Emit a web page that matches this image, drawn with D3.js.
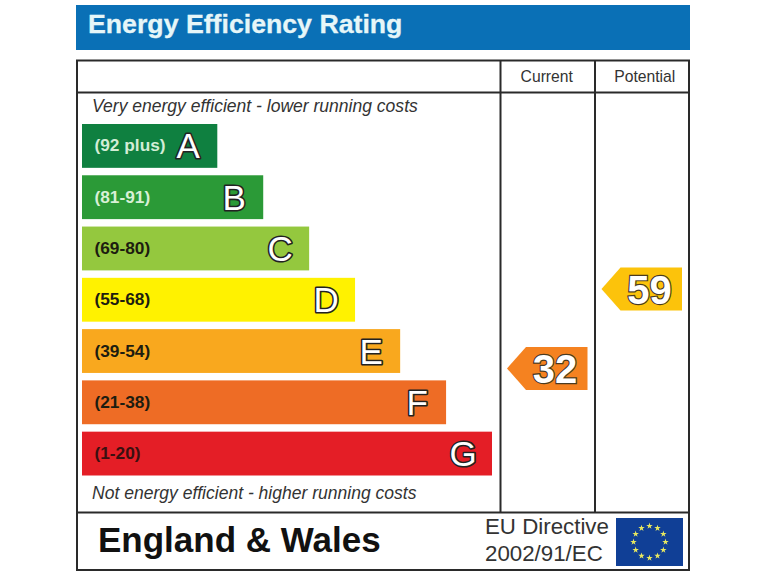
<!DOCTYPE html>
<html>
<head>
<meta charset="utf-8">
<script src="https://cdn.jsdelivr.net/npm/d3@7"></script>
<style>
    html, body { margin: 0; padding: 0; background: #fff; }
    svg { display: block; }
    text { font-family: "Liberation Sans", Arial, sans-serif; }
</style>
</head>
<body>
<div id="chart"></div>
<script>
// Chart data
const bandLetters = ["A", "B", "C", "D", "E", "F", "G"];
const bandRanges = ["(92 plus)", "(81-91)", "(69-80)", "(55-68)", "(39-54)", "(21-38)", "(1-20)"];
const bandLengths = [33, 44.2, 55.4, 66.6, 77.6, 88.8, 100]; // percent of the longest bar
const bandColors = ["#0f8040", "#2b9a37", "#94c83e", "#fff200", "#f9a81e", "#ee6c25", "#e41e26"];
const rangeColors = ["#d3edd6", "#d8f0d6", "#1d1d10", "#1d1d10", "#1d1d10", "#1d1d10", "#3a1010"];
const ratingColumns = ["Current", "Potential"];
const ratingValues = [32, 59];
const ratingColors = ["#f58220", "#fcc30b"];

const svg = d3.select("#chart").append("svg")
    .attr("width", 768)
    .attr("height", 576);

const xScale = d3.scaleLinear().domain([0, 100]).range([82, 492]);
const yScale = d3.scaleBand().domain(bandLetters).range([124, 475.5]).paddingInner(0.145).paddingOuter(0);
const ratingY = d3.scaleLinear().domain([0, 100]).range([462.7, 168.3]);
const columnX = d3.scaleBand().domain(ratingColumns).range([500.5, 689.5]);

// Header
svg.append("rect").attr("x", 76).attr("y", 5).attr("width", 614).attr("height", 45).attr("fill", "#0a70b6");
svg.append("text")
    .attr("x", 88).attr("y", 33)
    .attr("fill", "#e6f6f8")
    .attr("stroke", "#e6f6f8").attr("stroke-width", 0.3)
    .attr("font-size", 26.7).attr("font-weight", "bold")
    .text("Energy Efficiency Rating");

// Frame
const frame = svg.append("g").attr("stroke", "#2a2a2a").attr("stroke-width", 2).attr("fill", "none");
frame.append("rect").attr("x", 77).attr("y", 60.5).attr("width", 612).attr("height", 509.5);
[[77, 92.5, 689, 92.5], [77, 512.5, 689, 512.5], [500.5, 60.5, 500.5, 512.5], [595, 60.5, 595, 512.5]]
    .forEach(d => frame.append("line").attr("x1", d[0]).attr("y1", d[1]).attr("x2", d[2]).attr("y2", d[3]));

// Column titles
svg.selectAll(".columnTitle")
    .data(ratingColumns)
    .enter()
    .append("text")
    .attr("class", "columnTitle")
    .attr("x", d => columnX(d) + columnX.bandwidth() / 2 + (d === "Current" ? -1 : 2.5))
    .attr("y", 81.5)
    .attr("text-anchor", "middle")
    .attr("font-size", 15.7)
    .attr("fill", "#333")
    .text(d => d);

// Notes above and below the bars
svg.append("text").attr("x", 92).attr("y", 112).attr("font-size", 17.55).attr("font-style", "italic").attr("fill", "#333")
    .text("Very energy efficient - lower running costs");
svg.append("text").attr("x", 92).attr("y", 499).attr("font-size", 17.55).attr("font-style", "italic").attr("fill", "#333")
    .text("Not energy efficient - higher running costs");

// Bars
const bars = svg.selectAll(".band")
    .data(bandLetters)
    .enter()
    .append("g")
    .attr("class", "band");

bars.append("rect")
    .attr("x", xScale(0))
    .attr("y", d => yScale(d))
    .attr("width", (d, i) => xScale(bandLengths[i]) - xScale(0))
    .attr("height", yScale.bandwidth())
    .attr("fill", (d, i) => bandColors[i]);

bars.append("text")
    .attr("x", 94.5)
    .attr("y", d => yScale(d) + yScale.bandwidth() / 2 + 5.5)
    .attr("font-size", 17.3).attr("font-weight", "bold")
    .attr("fill", (d, i) => rangeColors[i])
    .text((d, i) => bandRanges[i]);

bars.append("text")
    .attr("x", (d, i) => xScale(bandLengths[i]) - 29)
    .attr("y", d => yScale(d) + yScale.bandwidth() / 2 + 12.5)
    .attr("text-anchor", "middle")
    .attr("font-size", 35)
    .attr("fill", "#fff").attr("stroke", "#222").attr("stroke-width", 3.2)
    .attr("stroke-linejoin", "round")
    .attr("paint-order", "stroke")
    .text(d => d);

// Rating arrows
const arrowHalf = 21.5;
const arrowLine = d3.line();
const arrows = svg.selectAll(".arrow")
    .data(ratingValues)
    .enter()
    .append("g")
    .attr("class", "arrow");

arrows.append("path")
    .attr("fill", (d, i) => ratingColors[i])
    .attr("d", (d, i) => {
        const left = columnX(ratingColumns[i]) + 6.5;
        const right = left + 80.5;
        const cy = ratingY(d);
        return arrowLine([
            [left, cy], [left + 19, cy - arrowHalf], [right, cy - arrowHalf],
            [right, cy + arrowHalf], [left + 19, cy + arrowHalf]
        ]) + "Z";
    });

arrows.append("text")
    .attr("x", (d, i) => columnX(ratingColumns[i]) + 54.5)
    .attr("y", d => ratingY(d) + 15)
    .attr("text-anchor", "middle")
    .attr("font-size", 40).attr("font-weight", "bold")
    .attr("fill", "#fff").attr("stroke", "#4a3a20").attr("stroke-width", 2.4)
    .attr("paint-order", "stroke")
    .text(d => d);

// Footer
svg.append("text").attr("x", 98).attr("y", 552).attr("font-size", 35).attr("font-weight", "bold").attr("fill", "#111")
    .text("England & Wales");
svg.append("text").attr("x", 485).attr("y", 534).attr("font-size", 22.3).attr("fill", "#333").text("EU Directive");
svg.append("text").attr("x", 485).attr("y", 561).attr("font-size", 22.3).attr("fill", "#333").text("2002/91/EC");

// EU flag
svg.append("rect").attr("x", 616).attr("y", 518).attr("width", 67).attr("height", 48).attr("fill", "#103f96");
svg.selectAll(".flagStar")
    .data(d3.range(12))
    .enter()
    .append("path")
    .attr("class", "flagStar")
    .attr("d", d3.symbol(d3.symbolStar, 13))
    .attr("fill", "#e8e860")
    .attr("transform", d => {
        const a = d * Math.PI / 6;
        return `translate(${649.5 + 16 * Math.sin(a)}, ${542 - 16 * Math.cos(a)})`;
    });
</script>
</body>
</html>
